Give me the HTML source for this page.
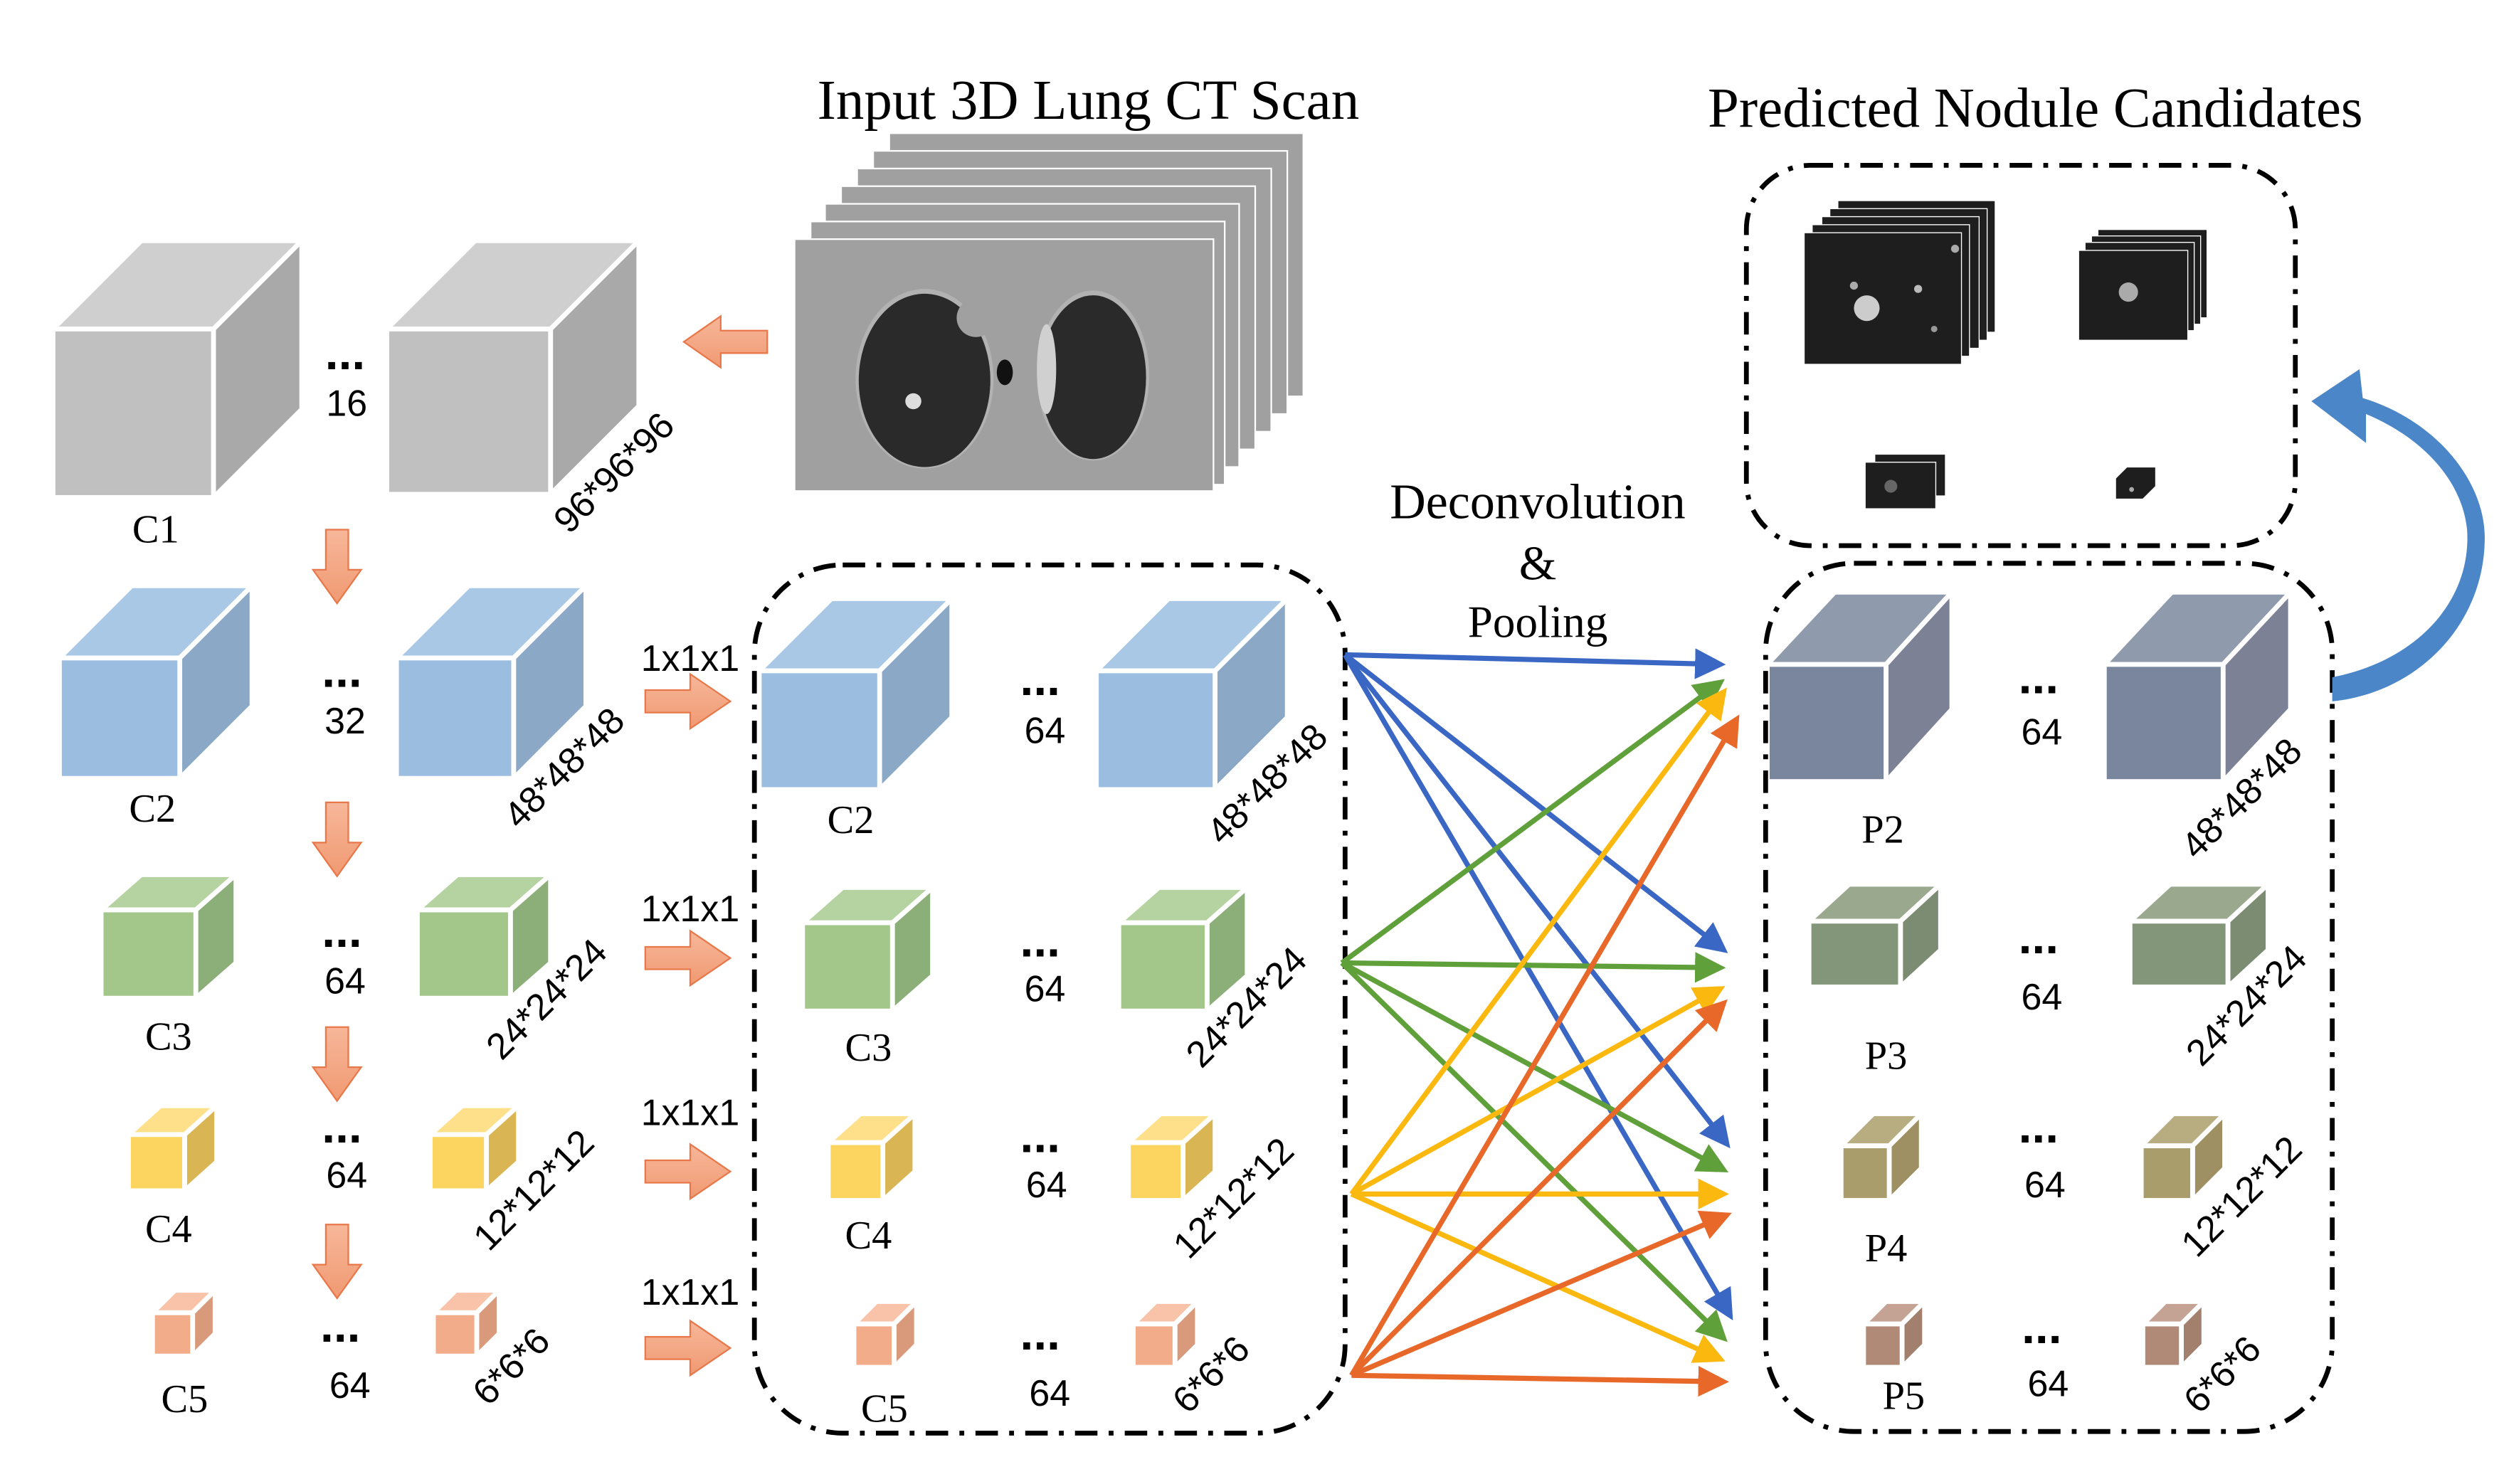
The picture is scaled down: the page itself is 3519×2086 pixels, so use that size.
<!DOCTYPE html>
<html><head><meta charset="utf-8">
<style>
html,body{margin:0;padding:0;background:#fff;}
svg{display:block;}
.serif{font-family:"Liberation Serif",serif;fill:#000;}
.num{font-family:"Liberation Sans Narrow","Liberation Sans",sans-serif;fill:#000;}
</style></head>
<body>
<svg width="3519" height="2086" viewBox="0 0 1560 924.7" xmlns="http://www.w3.org/2000/svg">
<defs>
<marker id="mb" markerWidth="6" markerHeight="6" refX="5" refY="3" orient="auto" markerUnits="strokeWidth"><path d="M0,0 L6,3 L0,6 z" fill="#3a66c4"/></marker>
<marker id="mg" markerWidth="6" markerHeight="6" refX="5" refY="3" orient="auto" markerUnits="strokeWidth"><path d="M0,0 L6,3 L0,6 z" fill="#5fa03a"/></marker>
<marker id="my" markerWidth="6" markerHeight="6" refX="5" refY="3" orient="auto" markerUnits="strokeWidth"><path d="M0,0 L6,3 L0,6 z" fill="#fbb80f"/></marker>
<marker id="mo" markerWidth="6" markerHeight="6" refX="5" refY="3" orient="auto" markerUnits="strokeWidth"><path d="M0,0 L6,3 L0,6 z" fill="#e8682a"/></marker>
<linearGradient id="og" x1="0" y1="0" x2="0" y2="1"><stop offset="0" stop-color="#f7b79a"/><stop offset="1" stop-color="#f09a72"/></linearGradient>
</defs>

<!-- Titles -->
<text x="678" y="74" class="serif" font-size="35" text-anchor="middle">Input 3D Lung CT Scan</text>
<text x="1268" y="79" class="serif" font-size="35" text-anchor="middle">Predicted Nodule Candidates</text>

<!-- CT stack -->
<g fill="#a0a0a0" stroke="#fff" stroke-width="1">
<rect x="554" y="83" width="258" height="164"/>
<rect x="544" y="94" width="258" height="164"/>
<rect x="534" y="105" width="258" height="164"/>
<rect x="524" y="116" width="258" height="164"/>
<rect x="514" y="127" width="258" height="164"/>
<rect x="505" y="138" width="258" height="164"/>
<rect x="495" y="149" width="261" height="157"/>
</g>
<ellipse cx="576" cy="236" rx="43" ry="56" fill="#b2b2b2"/>
<ellipse cx="681" cy="234" rx="35" ry="53" fill="#b2b2b2"/>
<ellipse cx="576" cy="237" rx="41" ry="54" fill="#2a2a2a"/>
<ellipse cx="681" cy="235" rx="33" ry="51" fill="#2a2a2a"/>
<circle cx="608" cy="198" r="12" fill="#a0a0a0"/>
<circle cx="569" cy="250" r="5" fill="#ddd"/>
<ellipse cx="652" cy="230" rx="6" ry="28" fill="#d0d0d0"/>
<ellipse cx="626" cy="232" rx="5" ry="8" fill="#111"/>

<!-- Left input arrow -->
<polygon points="478,206 449,206 449,197 426,213 449,229 449,220 478,220" fill="url(#og)" stroke="#e8784a" stroke-width="1"/>

<g stroke="#fff" stroke-width="3" stroke-linejoin="miter">
<polygon points="33,205 88,150 188,150 133,205" fill="#cfcfcf"/>
<polygon points="133,205 188,150 188,255 133,310" fill="#a9a9a9"/>
<rect x="33" y="205" width="100" height="105" fill="#c0c0c0"/>
<polygon points="241,205 296,150 398,150 343,205" fill="#cfcfcf"/>
<polygon points="343,205 398,150 398,253 343,308" fill="#a9a9a9"/>
<rect x="241" y="205" width="102" height="103" fill="#c0c0c0"/>

<g>
<polygon points="37,410 82,365 157,365 112,410" fill="#a9c8e6"/>
<polygon points="112,410 157,365 157,440 112,485" fill="#8ba8c6"/>
<rect x="37" y="410" width="75" height="75" fill="#9bbde0"/>
<polygon points="247,410 292,365 365,365 320,410" fill="#a9c8e6"/>
<polygon points="320,410 365,365 365,440 320,485" fill="#8ba8c6"/>
<rect x="247" y="410" width="73" height="75" fill="#9bbde0"/>
<polygon points="473,418 518,373 593,373 548,418" fill="#a9c8e6"/>
<polygon points="548,418 593,373 593,447 548,492" fill="#8ba8c6"/>
<rect x="473" y="418" width="75" height="74" fill="#9bbde0"/>
<polygon points="683,418 728,373 802,373 757,418" fill="#a9c8e6"/>
<polygon points="757,418 802,373 802,447 757,492" fill="#8ba8c6"/>
<rect x="683" y="418" width="74" height="74" fill="#9bbde0"/>
</g>
<g>
<polygon points="63,567 88,545 147,545 122,567" fill="#b5d3a0"/>
<polygon points="122,567 147,545 147,600 122,622" fill="#8cae78"/>
<rect x="63" y="567" width="59" height="55" fill="#a3c68b"/>
<polygon points="260,567 285,545 343,545 318,567" fill="#b5d3a0"/>
<polygon points="318,567 343,545 343,600 318,622" fill="#8cae78"/>
<rect x="260" y="567" width="58" height="55" fill="#a3c68b"/>
<polygon points="500,575 525,553 581,553 556,575" fill="#b5d3a0"/>
<polygon points="556,575 581,553 581,608 556,630" fill="#8cae78"/>
<rect x="500" y="575" width="56" height="55" fill="#a3c68b"/>
<polygon points="697,575 722,553 777,553 752,575" fill="#b5d3a0"/>
<polygon points="752,575 777,553 777,608 752,630" fill="#8cae78"/>
<rect x="697" y="575" width="55" height="55" fill="#a3c68b"/>
</g>
<g>
<polygon points="80,707 100,689 135,689 115,707" fill="#ffe08a"/>
<polygon points="115,707 135,689 135,724 115,742" fill="#d9b553"/>
<rect x="80" y="707" width="35" height="35" fill="#fcd460"/>
<polygon points="268,707 288,689 323,689 303,707" fill="#ffe08a"/>
<polygon points="303,707 323,689 323,724 303,742" fill="#d9b553"/>
<rect x="268" y="707" width="35" height="35" fill="#fcd460"/>
<polygon points="516,712 536,694 570,694 550,712" fill="#ffe08a"/>
<polygon points="550,712 570,694 570,730 550,748" fill="#d9b553"/>
<rect x="516" y="712" width="34" height="36" fill="#fcd460"/>
<polygon points="703,712 723,694 757,694 737,712" fill="#ffe08a"/>
<polygon points="737,712 757,694 757,730 737,748" fill="#d9b553"/>
<rect x="703" y="712" width="34" height="36" fill="#fcd460"/>
</g>
<g>
<polygon points="95,818 109,804 134,804 120,818" fill="#f8c3a8"/>
<polygon points="120,818 134,804 134,831 120,845" fill="#d99a7c"/>
<rect x="95" y="818" width="25" height="27" fill="#f2ac8a"/>
<polygon points="270,818 284,804 311,804 297,818" fill="#f8c3a8"/>
<polygon points="297,818 311,804 311,831 297,845" fill="#d99a7c"/>
<rect x="270" y="818" width="27" height="27" fill="#f2ac8a"/>
<polygon points="532,825 546,811 571,811 557,825" fill="#f8c3a8"/>
<polygon points="557,825 571,811 571,838 557,852" fill="#d99a7c"/>
<rect x="532" y="825" width="25" height="27" fill="#f2ac8a"/>
<polygon points="706,825 720,811 746,811 732,825" fill="#f8c3a8"/>
<polygon points="732,825 746,811 746,838 732,852" fill="#d99a7c"/>
<rect x="706" y="825" width="26" height="27" fill="#f2ac8a"/>
</g>

<g>
<polygon points="1101,414 1143,369 1216,369 1175,414" fill="#8f9aad"/>
<polygon points="1175,414 1216,369 1216,442 1175,487" fill="#7c8196"/>
<rect x="1101" y="414" width="74" height="73" fill="#7a869e"/>
<polygon points="1311,414 1353,369 1427,369 1385,414" fill="#8f9aad"/>
<polygon points="1385,414 1427,369 1427,442 1385,487" fill="#7c8196"/>
<rect x="1311" y="414" width="74" height="73" fill="#7a869e"/>

<polygon points="1127,574 1152,551 1209,551 1184,574" fill="#9aa88d"/>
<polygon points="1184,574 1209,551 1209,592 1184,615" fill="#7b8c72"/>
<rect x="1127" y="574" width="57" height="41" fill="#84967a"/>
<polygon points="1327,574 1352,551 1413,551 1388,574" fill="#9aa88d"/>
<polygon points="1388,574 1413,551 1413,592 1388,615" fill="#7b8c72"/>
<rect x="1327" y="574" width="61" height="41" fill="#84967a"/>

<polygon points="1147,714 1167,694 1197,694 1177,714" fill="#b8ad80"/>
<polygon points="1177,714 1197,694 1197,728 1177,748" fill="#9e9063"/>
<rect x="1147" y="714" width="30" height="34" fill="#a89d6b"/>
<polygon points="1334,714 1354,694 1386,694 1366,714" fill="#b8ad80"/>
<polygon points="1366,714 1386,694 1386,728 1366,748" fill="#9e9063"/>
<rect x="1334" y="714" width="32" height="34" fill="#a89d6b"/>

<polygon points="1161,825 1175,811 1199,811 1185,825" fill="#c4a394"/>
<polygon points="1185,825 1199,811 1199,838 1185,852" fill="#a3806e"/>
<rect x="1161" y="825" width="24" height="27" fill="#b08a76"/>
<polygon points="1335,825 1349,811 1373,811 1359,825" fill="#c4a394"/>
<polygon points="1359,825 1373,811 1373,838 1359,852" fill="#a3806e"/>
<rect x="1335" y="825" width="24" height="27" fill="#b08a76"/>
</g>
</g>

<g fill="url(#og)" stroke="#e8784a" stroke-width="1">
<polygon points="203,330 217,330 217,355 225,355 210,376 195,355 203,355"/>
<polygon points="203,500 217,500 217,525 225,525 210,546 195,525 203,525"/>
<polygon points="203,640 217,640 217,665 225,665 210,686 195,665 203,665"/>
<polygon points="203,763 217,763 217,788 225,788 210,809 195,788 203,788"/>
</g>
<g fill="url(#og)" stroke="#e8784a" stroke-width="1">
<polygon points="402,430 430,430 430,420 455,437 430,454 430,444 402,444"/>
<polygon points="402,590 430,590 430,580 455,597 430,614 430,604 402,604"/>
<polygon points="402,723 430,723 430,713 455,730 430,747 430,737 402,737"/>
<polygon points="402,833 430,833 430,823 455,840 430,857 430,847 402,847"/>
</g>

<g class="serif" font-size="25" text-anchor="middle">
<text x="97" y="338">C1</text>
<text x="95" y="512">C2</text>
<text x="105" y="654">C3</text>
<text x="105" y="774">C4</text>
<text x="115" y="880">C5</text>
<text x="530" y="519">C2</text>
<text x="541" y="661">C3</text>
<text x="541" y="778">C4</text>
<text x="551" y="886">C5</text>
<text x="1173" y="525">P2</text>
<text x="1175" y="666">P3</text>
<text x="1175" y="786">P4</text>
<text x="1186" y="878">P5</text>
</g>
<g class="num" font-size="30" text-anchor="middle" font-weight="bold">
<text x="215" y="230">...</text>
<text x="213" y="428">...</text>
<text x="213" y="590">...</text>
<text x="213" y="712">...</text>
<text x="212" y="836">...</text>
<text x="648" y="433">...</text>
<text x="648" y="596">...</text>
<text x="648" y="718">...</text>
<text x="648" y="841">...</text>
<text x="1270" y="432">...</text>
<text x="1270" y="594">...</text>
<text x="1270" y="712">...</text>
<text x="1272" y="837">...</text>
</g>
<g class="num" font-size="23" text-anchor="middle">
<text x="216" y="259">16</text>
<text x="215" y="457">32</text>
<text x="215" y="619">64</text>
<text x="216" y="740">64</text>
<text x="218" y="871">64</text>
<text x="651" y="463">64</text>
<text x="651" y="624">64</text>
<text x="652" y="746">64</text>
<text x="654" y="876">64</text>
<text x="1272" y="464">64</text>
<text x="1272" y="629">64</text>
<text x="1274" y="746">64</text>
<text x="1276" y="870">64</text>
<text x="430" y="418">1x1x1</text>
<text x="430" y="574">1x1x1</text>
<text x="430" y="701">1x1x1</text>
<text x="430" y="813">1x1x1</text>
</g>
<g class="num" font-size="23" text-anchor="middle">
<text transform="translate(388,300) rotate(-45)">96*96*96</text>
<text transform="translate(357,484) rotate(-45)">48*48*48</text>
<text transform="translate(346,628) rotate(-45)">24*24*24</text>
<text transform="translate(338,747) rotate(-45)">12*12*12</text>
<text transform="translate(324,857) rotate(-45)">6*6*6</text>
<text transform="translate(795,494) rotate(-45)">48*48*48</text>
<text transform="translate(782,633) rotate(-45)">24*24*24</text>
<text transform="translate(774,752) rotate(-45)">12*12*12</text>
<text transform="translate(760,862) rotate(-45)">6*6*6</text>
<text transform="translate(1402,503) rotate(-45)">48*48*48</text>
<text transform="translate(1405,632) rotate(-45)">24*24*24</text>
<text transform="translate(1402,751) rotate(-45)">12*12*12</text>
<text transform="translate(1390,862) rotate(-45)">6*6*6</text>
</g>

<g class="serif" text-anchor="middle">
<text x="958" y="323" font-size="31">Deconvolution</text>
<text x="958" y="361" font-size="30">&amp;</text>
<text x="958" y="397" font-size="28">Pooling</text>
</g>

<g fill="none" stroke="#000" stroke-width="3" stroke-dasharray="14,7,3,7">
<rect x="470" y="352" width="368" height="541" rx="55"/>
<rect x="1100" y="351" width="353" height="541" rx="55"/>
<rect x="1088" y="103" width="342" height="237" rx="40"/>
</g>

<g fill="none" stroke-width="3.2">
<g stroke="#3a66c4" marker-end="url(#mb)">
<line x1="838" y1="408" x2="1072" y2="414"/>
<line x1="838" y1="408" x2="1074" y2="592"/>
<line x1="838" y1="408" x2="1076" y2="713"/>
<line x1="838" y1="408" x2="1078" y2="820"/>
</g>
<g stroke="#5fa03a" marker-end="url(#mg)">
<line x1="836" y1="600" x2="1072" y2="425"/>
<line x1="836" y1="600" x2="1072" y2="603"/>
<line x1="836" y1="600" x2="1074" y2="729"/>
<line x1="836" y1="600" x2="1074" y2="834"/>
</g>
<g stroke="#fbb80f" marker-end="url(#my)">
<line x1="842" y1="744" x2="1074" y2="431"/>
<line x1="842" y1="744" x2="1072" y2="616"/>
<line x1="842" y1="744" x2="1074" y2="744"/>
<line x1="842" y1="744" x2="1072" y2="847"/>
</g>
<g stroke="#e8682a" marker-end="url(#mo)">
<line x1="842" y1="857" x2="1082" y2="448"/>
<line x1="842" y1="857" x2="1074" y2="625"/>
<line x1="842" y1="857" x2="1076" y2="757"/>
<line x1="842" y1="857" x2="1074" y2="861"/>
</g>
</g>

<g fill="#1e1e1e" stroke="#fff" stroke-width="0.6">
<rect x="1145" y="125" width="98" height="82"/>
<rect x="1140" y="130" width="98" height="82"/>
<rect x="1135" y="135" width="98" height="82"/>
<rect x="1129" y="140" width="98" height="82"/>
<rect x="1124" y="145" width="98" height="82"/>
<rect x="1307" y="143" width="68" height="55"/>
<rect x="1303" y="147" width="68" height="55"/>
<rect x="1299" y="151" width="68" height="55"/>
<rect x="1295" y="156" width="68" height="56"/>
<rect x="1168" y="283" width="44" height="26"/>
<rect x="1162" y="288" width="44" height="29"/>
<polygon points="1318,298 1325,291 1343,291 1343,303 1335,311 1318,311"/>
</g>
<circle cx="1163" cy="192" r="8" fill="#ccc"/>
<circle cx="1155" cy="178" r="2.5" fill="#aaa"/><circle cx="1195" cy="180" r="2.5" fill="#bbb"/><circle cx="1218" cy="155" r="2.5" fill="#aaa"/><circle cx="1205" cy="205" r="2" fill="#999"/>
<circle cx="1326" cy="182" r="6" fill="#aaa"/>
<circle cx="1178" cy="303" r="4" fill="#666"/>
<circle cx="1328" cy="305" r="1.5" fill="#aaa"/>

<path d="M1453,422 C1505,412 1540,375 1537,330 C1534,300 1510,273 1474,258 L1474,276 L1440,250 L1470,230 L1472,248 C1518,262 1548,300 1548,335 C1548,390 1505,432 1453,437 Z" fill="#4a86c8"/>
</svg>
</body></html>
